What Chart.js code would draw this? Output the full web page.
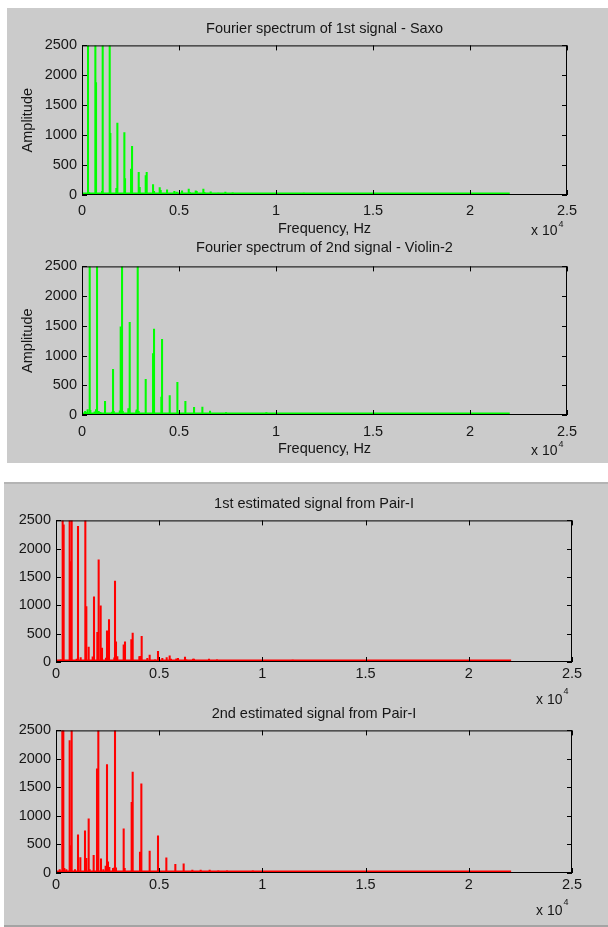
<!DOCTYPE html>
<html>
<head>
<meta charset="utf-8">
<script src="https://cdn.jsdelivr.net/npm/chart.js@4.4.1/dist/chart.umd.min.js"></script>
<style>
  html, body { margin: 0; padding: 0; background: #ffffff; width: 608px; height: 927px; overflow: hidden; position: relative; }
  .panel { position: absolute; background: #cbcbcb; box-sizing: border-box; }
  #panelTop { left: 7px; top: 8px; width: 601px; height: 455px; }
  #panelBottom { left: 4px; top: 482px; width: 604px; height: 445px; border-top: 2px solid #b4b4b4; border-bottom: 2px solid #a4a4a4; }
  canvas { position: absolute; }
  #c1 { left: 8px; top: 10px; }
  #c2 { left: 8px; top: 236px; }
  #c3 { left: 5px; top: 486px; }
  #c4 { left: 5px; top: 696px; }
</style>
</head>
<body>
<div class="panel" id="panelTop"></div>
<div class="panel" id="panelBottom"></div>
<canvas id="c1" width="600" height="232"></canvas>
<canvas id="c2" width="600" height="226"></canvas>
<canvas id="c3" width="603" height="222"></canvas>
<canvas id="c4" width="603" height="230"></canvas>
<script>
// Frequency axis: ticks every 5 kHz, labelled in units of 10^4 Hz
const freqTickLabels = ['0', '0.5', '1', '1.5', '2', '2.5'];
const freqStep = 5000;
const freqMax = 25000;
// Amplitude axis
const ampTickLabels = ['0', '500', '1000', '1500', '2000', '2500'];
const ampStep = 500;
const ampMax = 2500;

// Spectral peaks (Hz, amplitude) of the 1st source signal - Saxo
const saxoFreq = [311, 363, 689, 723, 1033, 1067, 1428, 1462, 1772, 1823, 2184, 2219, 2528, 2580,
  2923, 2974, 3284, 3335, 3662, 3713, 4006, 4057, 4384, 4762, 4883, 5158, 5502, 5552, 5862, 5913,
  6256, 6308, 6634, 7029, 7390, 7768, 9246, 11430];
const saxoAmp = [2500, 40, 2500, 1880, 60, 2500, 2500, 1030, 110, 1200, 1045, 275, 435, 815,
  380, 130, 325, 380, 175, 60, 125, 80, 85, 60, 50, 70, 100, 45, 70, 60,
  100, 45, 55, 30, 50, 35, 25, 30];

// Spectral peaks of the 2nd source signal - Violin-2
const violinFreq = [160, 225, 290, 397, 430, 650, 723, 775, 860, 950, 1187, 1550, 1600, 1634, 1950,
  1995, 2064, 2100, 2390, 2459, 2803, 2820, 2872, 2920, 3284, 3662, 3713, 4091, 4126, 4521, 4917,
  5329, 5776, 6205, 6600, 7013, 7425, 7837, 8267, 9504];
const violinAmp = [60, 45, 90, 2500, 80, 55, 90, 2500, 60, 45, 230, 50, 770, 60, 70,
  1485, 2500, 60, 110, 1560, 70, 85, 2500, 60, 600, 1035, 1445, 300, 1275, 325, 550,
  230, 130, 135, 65, 30, 40, 30, 30, 40];

// Spectral peaks of the 1st estimated signal from Pair-I
const est1Freq = [226, 323, 371, 662, 710, 759, 1001, 1066, 1195, 1421, 1470, 1583, 1777, 1841,
  2003, 2067, 2164, 2229, 2422, 2471, 2519, 2568, 2826, 2859, 2907, 2972, 3279, 3343, 3650, 3715,
  4038, 4086, 4151, 4425, 4538, 4797, 4942, 5152, 5362, 5507, 5572, 5830, 5911, 6250, 6314, 6637,
  6686, 7413, 7800, 9254, 11468];
const est1Amp = [40, 2500, 2420, 2500, 1775, 2500, 50, 2395, 80, 2500, 980, 265, 90, 1150,
  525, 1805, 990, 245, 70, 550, 415, 750, 75, 1430, 355, 95, 305, 355, 395, 510,
  95, 100, 455, 65, 120, 40, 190, 65, 80, 110, 50, 55, 65, 85, 40, 50,
  50, 50, 40, 30, 35];

// Spectral peaks of the 2nd estimated signal from Pair-I
const est2Freq = [180, 307, 355, 404, 501, 662, 710, 759, 920, 1066, 1179, 1405, 1470, 1583, 1631,
  1825, 1987, 2051, 2180, 2293, 2406, 2471, 2519, 2584, 2762, 2826, 2859, 2907, 3279, 3327, 3666,
  3715, 4070, 4135, 4538, 4942, 5346, 5782, 6185, 6605, 7009, 7445, 7865, 8285, 9125, 9535];
const est2Amp = [60, 2500, 2500, 80, 60, 2320, 480, 2500, 60, 670, 270, 740, 255, 950, 60,
  310, 1825, 2500, 250, 60, 120, 1900, 195, 100, 80, 90, 2500, 90, 775, 80, 1240,
  1770, 365, 1565, 385, 650, 265, 150, 160, 50, 50, 50, 40, 40, 30, 40];

// Broadband noise floor, present up to the Nyquist frequency
const floorFreq = [0, 22050];
const floorAmp = [20, 20];

const GREEN = '#00ff00';
const RED = '#ff0000';
const TEXT = '#161616';
const FAMILY = '"Liberation Sans", Arial, Helvetica, sans-serif';
const font14 = { family: FAMILY, size: 14.5, weight: 'normal', lineHeight: 1.2 };

// Axes box with inward tick marks on all four sides, plus the x-axis multiplier
const framePlugin = {
  id: 'frame',
  afterDatasetsDraw(chart, args, opts) {
    const { ctx, chartArea: a, scales: { x, y } } = chart;
    ctx.save();
    ctx.strokeStyle = '#000000';
    ctx.lineWidth = 1;
    ctx.strokeRect(a.left + 0.5, a.top + 0.5, a.right - a.left - 1, a.bottom - a.top - 1);
    ctx.beginPath();
    x.ticks.forEach(t => {
      const px = Math.round(x.getPixelForValue(t.value)) + 0.5;
      ctx.moveTo(px, a.bottom); ctx.lineTo(px, a.bottom - 5);
      ctx.moveTo(px, a.top); ctx.lineTo(px, a.top + 5);
    });
    y.ticks.forEach(t => {
      const py = Math.round(y.getPixelForValue(t.value)) + 0.5;
      ctx.moveTo(a.left, py); ctx.lineTo(a.left + 5, py);
      ctx.moveTo(a.right, py); ctx.lineTo(a.right - 5, py);
    });
    ctx.stroke();
    ctx.fillStyle = TEXT;
    ctx.textBaseline = 'middle';
    ctx.textAlign = 'left';
    ctx.font = '14px ' + FAMILY;
    ctx.fillText('x 10', a.right - opts.expX, a.bottom + opts.expY);
    ctx.font = '9px ' + FAMILY;
    ctx.fillText('4', a.right - opts.expX + 27.5, a.bottom + opts.supY);
    ctx.restore();
  }
};

function spectrumChart(id, g) {
  const peaks = g.freq.map((f, i) => ({ x: f, y: g.amp[i] }));
  const floor = floorFreq.map((f, i) => ({ x: f, y: floorAmp[i] }));
  return new Chart(document.getElementById(id), {
    type: 'bar',
    data: {
      datasets: [
        { type: 'line', data: floor, borderColor: g.color, borderWidth: 2.5,
          pointRadius: 0, clip: 0, order: 2 },
        { data: peaks, backgroundColor: g.color, borderWidth: 0, barThickness: 1.4,
          grouped: false, order: 1 }
      ]
    },
    options: {
      responsive: false,
      animation: false,
      devicePixelRatio: 1,
      layout: { padding: { left: 0, top: g.padTop, right: g.padRight, bottom: 0 } },
      plugins: {
        legend: { display: false },
        tooltip: { enabled: false },
        title: {
          display: true, text: g.title, fullSize: false, color: TEXT,
          font: font14, padding: { top: 0, bottom: g.titleGap }
        },
        frame: { expX: 36, expY: g.expY, supY: g.supY }
      },
      scales: {
        x: {
          type: 'linear', min: 0, max: freqMax, offset: false,
          grid: { display: false, drawTicks: false, offset: false },
          border: { display: false },
          ticks: {
            stepSize: freqStep, padding: g.xPad, color: TEXT, font: font14,
            maxRotation: 0, autoSkip: false,
            callback: (v, i) => freqTickLabels[i]
          },
          title: g.xTitle
            ? { display: true, text: g.xTitle, color: TEXT, font: font14, padding: { top: 0, bottom: g.xTitlePad } }
            : { display: false },
          afterFit: s => { s.height = g.xHeight; }
        },
        y: {
          min: 0, max: ampMax,
          grid: { display: false, drawTicks: false },
          border: { display: false },
          ticks: {
            stepSize: ampStep, padding: 5, color: TEXT, font: font14,
            callback: (v, i) => ampTickLabels[i]
          },
          title: g.yTitle
            ? { display: true, text: g.yTitle, color: TEXT, font: font14, padding: { top: 11.6, bottom: 0 } }
            : { display: false },
          afterFit: s => { s.width = g.yWidth; }
        }
      }
    },
    plugins: [framePlugin]
  });
}

spectrumChart('c1', {
  freq: saxoFreq, amp: saxoAmp, color: GREEN,
  title: 'Fourier spectrum of 1st signal - Saxo',
  xTitle: 'Frequency, Hz', yTitle: 'Amplitude',
  padTop: 9.9, titleGap: 8.1, padRight: 41, yWidth: 74, xHeight: 47,
  xPad: 7, xTitlePad: 4.4, expY: 36, supY: 29.5
});

spectrumChart('c2', {
  freq: violinFreq, amp: violinAmp, color: GREEN,
  title: 'Fourier spectrum of 2nd signal - Violin-2',
  xTitle: 'Frequency, Hz', yTitle: 'Amplitude',
  padTop: 3.6, titleGap: 9.4, padRight: 41, yWidth: 74, xHeight: 47,
  xPad: 8, xTitlePad: 4.8, expY: 36, supY: 29.5
});

spectrumChart('c3', {
  freq: est1Freq, amp: est1Amp, color: RED,
  title: '1st estimated signal from Pair-I',
  xTitle: null, yTitle: null,
  padTop: 8.9, titleGap: 8.1, padRight: 36, yWidth: 51, xHeight: 46,
  xPad: 3, xTitlePad: 0, expY: 38, supY: 30
});

spectrumChart('c4', {
  freq: est2Freq, amp: est2Amp, color: RED,
  title: '2nd estimated signal from Pair-I',
  xTitle: null, yTitle: null,
  padTop: 8.9, titleGap: 8.1, padRight: 36, yWidth: 51, xHeight: 53,
  xPad: 3.5, xTitlePad: 0, expY: 38, supY: 30
});
</script>
</body>
</html>
